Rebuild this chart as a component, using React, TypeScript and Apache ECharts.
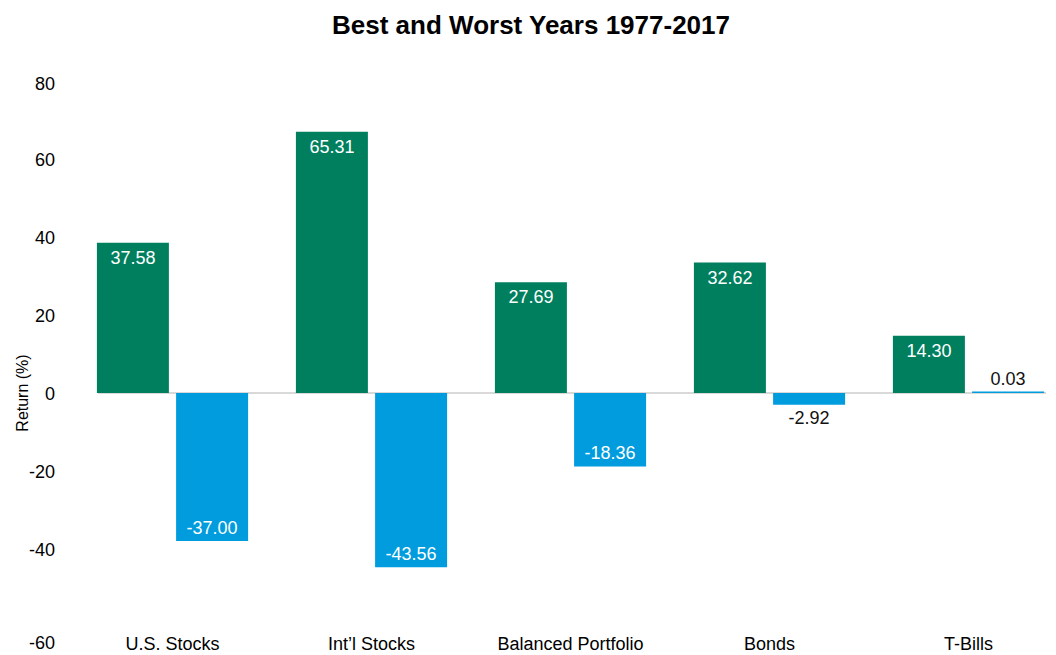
import React, { useEffect, useRef } from "react";
import * as echarts from "echarts";

const categories = ["U.S. Stocks", "Int\u2019l Stocks", "Balanced Portfolio", "Bonds", "T-Bills"];
const bestValues = [37.58, 65.31, 27.69, 32.62, 14.3];
const worstValues = [-37.0, -43.56, -18.36, -2.92, 0.03];
const yTicks = { min: -60, max: 80, interval: 20 };
// vertical nudge (px) of each y tick label, as placed in the reference
const yLabelNudge: Record<string, number> = {
  "80": 11, "60": 7, "40": 5, "20": 3, "0": 1, "-20": -1, "-40": -3, "-60": 10,
};

const FONT = "'Liberation Sans', Arial, Helvetica, sans-serif";
const GREEN = "#007F5F";
const BLUE = "#009CDE";

function labelFor(v: number) {
  const small = Math.abs(v) < 6;
  if (v >= 0) {
    return small
      ? { position: "top", color: "#111", distance: 4 }
      : { position: "insideTop", color: "#fff", distance: 6 };
  }
  return small
    ? { position: "bottom", color: "#111", distance: 4 }
    : { position: "insideBottom", color: "#fff", distance: 4 };
}

export default function App() {
  const ref = useRef<HTMLDivElement>(null);
  useEffect(() => {
    if (!ref.current) return;
    const chart = echarts.init(ref.current, undefined, { renderer: "svg" });
    const mkData = (arr: number[]) =>
      arr.map((v) => ({ value: v, label: labelFor(v) }));
    const rich: Record<string, any> = {};
    Object.keys(yLabelNudge).forEach((k, i) => {
      const n = yLabelNudge[k];
      rich["t" + i] = {
        fontFamily: FONT,
        fontSize: 18,
        color: "#000",
        padding: n >= 0 ? [2 * n, 0, 0, 0] : [0, 0, -2 * n, 0],
      };
    });
    const keys = Object.keys(yLabelNudge);
    chart.setOption({
      animation: false,
      backgroundColor: "#fff",
      textStyle: { fontFamily: FONT },
      title: {
        text: "Best and Worst Years 1977-2017",
        left: 526,
        textAlign: "center",
        top: 7,
        textStyle: { fontFamily: FONT, fontSize: 26, fontWeight: "bold", color: "#000" },
      },
      grid: { left: 73, width: 995, top: 73, height: 560, containLabel: false },
      xAxis: {
        type: "category",
        data: categories,
        axisLine: { show: false },
        axisTick: { show: false },
        axisLabel: { fontFamily: FONT, fontSize: 18, color: "#000", margin: 2, interval: 0 },
        splitLine: { show: false },
      },
      yAxis: {
        type: "value",
        min: yTicks.min,
        max: yTicks.max,
        interval: yTicks.interval,
        axisLine: { show: false },
        axisTick: { show: false },
        splitLine: { show: false },
        axisLabel: {
          fontFamily: FONT,
          fontSize: 18,
          color: "#000",
          margin: 18,
          formatter: (v: number) => {
            const s = String(v);
            const i = keys.indexOf(s);
            return i >= 0 ? `{t${i}|${s}}` : s;
          },
          rich,
        },
      },
      series: [
        {
          name: "Best",
          type: "bar",
          data: mkData(bestValues),
          barWidth: 72,
          barGap: "10%",
          itemStyle: { color: GREEN },
          z: 3,
          label: {
            show: true,
            fontFamily: FONT,
            fontSize: 18,
            formatter: (p: any) => Number(p.value).toFixed(2),
          },
        },
        {
          name: "Worst",
          type: "bar",
          data: mkData(worstValues),
          barWidth: 72,
          barGap: "10%",
          barMinHeight: 1.5,
          itemStyle: { color: BLUE },
          z: 3,
          label: {
            show: true,
            fontFamily: FONT,
            fontSize: 18,
            formatter: (p: any) => Number(p.value).toFixed(2),
          },
        },
      ],
    });
    const y0 = chart.convertToPixel({ yAxisIndex: 0 }, 0) as number;
    chart.setOption({
      graphic: [
        {
          type: "line",
          shape: { x1: 98, y1: y0, x2: 1046, y2: y0 },
          style: { stroke: "#b3b3b3", lineWidth: 1.2 },
          z: 1,
        },
        {
          type: "text",
          x: 22,
          y: y0,
          rotation: Math.PI / 2,
          style: {
            text: "Return (%)",
            fontFamily: FONT,
            fontSize: 16,
            fill: "#000",
            align: "center",
            verticalAlign: "middle",
          },
        },
      ],
    });
    return () => chart.dispose();
  }, []);
  return (
    <div
      style={{
        position: "absolute",
        left: 0,
        top: 0,
        width: 1056,
        height: 655,
        overflow: "hidden",
        background: "#fff",
      }}
    >
      <div ref={ref} style={{ width: 1080, height: 655 }} />
    </div>
  );
}
